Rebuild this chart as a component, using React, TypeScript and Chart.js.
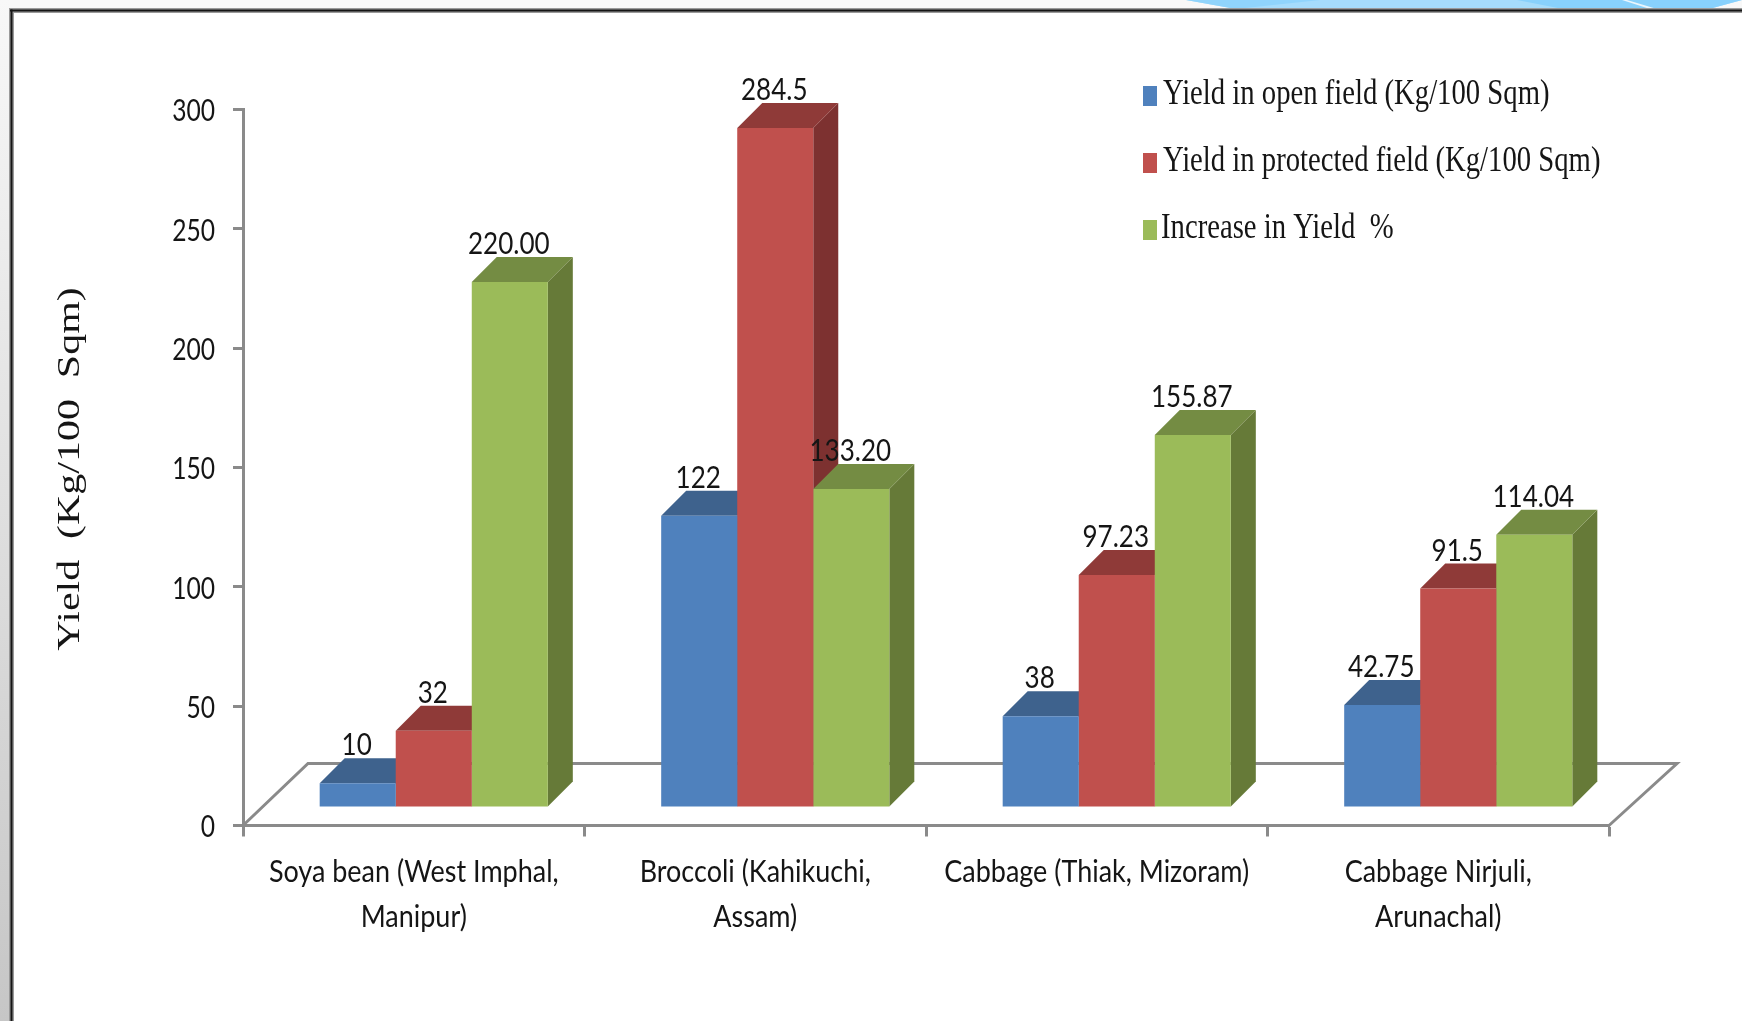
import React, { useEffect, useRef } from "react";
import { Chart, registerables } from "chart.js";

Chart.register(...registerables);

const categories = [
  ["Soya bean (West Imphal,", "Manipur)"],
  ["Broccoli (Kahikuchi,", "Assam)"],
  ["Cabbage (Thiak, Mizoram)"],
  ["Cabbage Nirjuli,", "Arunachal)"],
];
const openField = [10, 122, 38, 42.75];
const protectedField = [32, 284.5, 97.23, 91.5];
const increase = [220.0, 133.2, 155.87, 114.04];
const openLabels = ["10", "122", "38", "42.75"];
const protectedLabels = ["32", "284.5", "97.23", "91.5"];
const increaseLabels = ["220.00", "133.20", "155.87", "114.04"];
const valueLabels = [openLabels, protectedLabels, increaseLabels];
const seriesNames = [
  "Yield in open field (Kg/100 Sqm)",
  "Yield in protected field (Kg/100 Sqm)",
  "Increase in Yield  %",
];
const yTicks = [0, 50, 100, 150, 200, 250, 300];
const yTitle = "Yield  (Kg/100  Sqm)";

const frontColors = ["#4f81bd", "#c0504d", "#9bbb59"];
const topColors = ["#3e628d", "#8f3a38", "#748c43"];
const sideColors = ["#355478", "#7d3130", "#667a38"];

const SANS = "Lato";
const SERIF = '"Liberation Serif"';
const AXIS = "#8a8a8a";
const INK = "#151515";
const SHIFT_X = 20;
const SHIFT_Y = -18.5;
const DEPTH = 25;
const FLOOR = 65;

function squeezed(ctx: any, text: string, x: number, y: number, font: string, sx: number, align: string) {
  ctx.save();
  ctx.translate(x, y);
  ctx.scale(sx, 1);
  ctx.font = font;
  ctx.fillStyle = INK;
  ctx.textAlign = align;
  ctx.textBaseline = "middle";
  ctx.fillText(text, 0, 0);
  ctx.restore();
}

function poly(ctx: any, color: string, pts: number[][]) {
  ctx.fillStyle = color;
  ctx.beginPath();
  pts.forEach((p, i) => (i ? ctx.lineTo(p[0], p[1]) : ctx.moveTo(p[0], p[1])));
  ctx.closePath();
  ctx.fill();
}

const scene = {
  id: "scene",
  beforeDraw(chart: any) {
    const { ctx, width, height } = chart;
    ctx.save();
    ctx.fillStyle = "#f8f8f8";
    ctx.fillRect(0, 0, width, height);
    const g = ctx.createLinearGradient(0, 0, 0, height);
    g.addColorStop(0, "#f8f8f8");
    g.addColorStop(1, "#c6c6c6");
    ctx.fillStyle = g;
    ctx.fillRect(0, 0, 10, height);
    // blue header swoosh
    poly(ctx, "#a6dcfb", [[1186, 0], [1742, 0], [1709, 9], [1236, 9]]);
    poly(ctx, "#90d4fb", [[1186, 0], [1320, 0], [1236, 9]]);
    poly(ctx, "#88d1fc", [[1517, 0], [1742, 0], [1709, 9], [1563, 9]]);
    poly(ctx, "#eaf6fe", [[1622, 0], [1627, 0], [1657, 9], [1650, 9]]);
    ctx.fillStyle = "#ffffff";
    ctx.fillRect(11, 10, width - 11, height - 10);
    ctx.fillStyle = "#9a9a9a";
    ctx.fillRect(9, 8, width - 9, 5);
    ctx.fillRect(9, 8, 5, height - 8);
    ctx.fillStyle = "#151515";
    ctx.fillRect(10, 9.5, width - 10, 2);
    ctx.fillRect(10.5, 9.5, 2, height - 9);
    ctx.restore();
  },
  beforeDatasetsDraw(chart: any) {
    const { ctx, chartArea: a, scales } = chart;
    const y0 = scales.y.getPixelForValue(0);
    ctx.save();
    ctx.strokeStyle = AXIS;
    ctx.lineWidth = 3;
    ctx.beginPath();
    ctx.moveTo(a.left, y0);
    ctx.lineTo(a.left + FLOOR, y0 - 62);
    ctx.lineTo(a.right + FLOOR + 3, y0 - 62);
    ctx.lineTo(a.right, y0);
    ctx.stroke();
    // the tops and right faces go down first, series by series, so that
    // every front face, which the library draws afterwards, lies over them
    ctx.translate(SHIFT_X, SHIFT_Y);
    chart.data.datasets.forEach((_: any, i: number) => {
      for (const bar of chart.getDatasetMeta(i).data) {
        const p = bar.getProps(["x", "y", "base", "width"], true);
        const l = p.x - p.width / 2;
        const r = p.x + p.width / 2;
        poly(ctx, sideColors[i], [[r, p.y], [r + DEPTH, p.y - DEPTH], [r + DEPTH, p.base - DEPTH], [r, p.base]]);
        poly(ctx, topColors[i], [[l, p.y], [l + DEPTH, p.y - DEPTH], [r + DEPTH, p.y - DEPTH], [r, p.y]]);
      }
    });
    ctx.restore();
  },
  beforeDatasetDraw(chart: any) {
    chart.ctx.save();
    chart.ctx.translate(SHIFT_X, SHIFT_Y);
  },
  afterDatasetDraw(chart: any) {
    chart.ctx.restore();
  },
  afterDatasetsDraw(chart: any) {
    const { ctx } = chart;
    chart.data.datasets.forEach((_: any, i: number) => {
      chart.getDatasetMeta(i).data.forEach((bar: any, j: number) => {
        squeezed(ctx, valueLabels[i][j], bar.x + SHIFT_X - 1, bar.y + SHIFT_Y - 38, `31px ${SANS}`, 0.84, "center");
      });
    });
  },
  afterDraw(chart: any) {
    const { ctx, scales } = chart;
    // axis labels
    scales.y.ticks.forEach((t: any, i: number) => {
      squeezed(ctx, String(t.value), 215, scales.y.getPixelForTick(i) + 2, `30px ${SANS}`, 0.82, "right");
    });
    chart.data.labels.forEach((lines: string[], i: number) => {
      lines.forEach((line, k) => {
        squeezed(ctx, line, scales.x.getPixelForTick(i), 872 + k * 45, `31px ${SANS}`, 0.87, "center");
      });
    });
    // legend
    [95, 162, 229].forEach((cy, i) => {
      ctx.fillStyle = frontColors[i];
      ctx.fillRect(1143, cy - 9, 14, 20);
      ctx.save();
      ctx.translate(i === 2 ? 1161 : 1163, cy);
      ctx.scale(0.797, 1);
      ctx.fillStyle = INK;
      ctx.font = `36px ${SERIF}`;
      ctx.textBaseline = "middle";
      ctx.textAlign = "left";
      ctx.fillText(seriesNames[i], 0, 0);
      ctx.restore();
    });
    // rotated axis title
    ctx.save();
    ctx.translate(71, 469);
    ctx.rotate(-Math.PI / 2);
    ctx.scale(1.165, 0.86);
    ctx.fillStyle = INK;
    ctx.font = `36px ${SERIF}`;
    ctx.textAlign = "center";
    ctx.textBaseline = "middle";
    ctx.fillText(yTitle, 0, 0);
    ctx.restore();
  },
};

export default function App() {
  const ref = useRef<HTMLCanvasElement>(null);
  useEffect(() => {
    document.body.style.margin = "0";
    const chart = new Chart(ref.current as any, {
      type: "bar",
      data: {
        labels: categories as any,
        datasets: [
          { label: seriesNames[0], data: openField, backgroundColor: frontColors[0], clip: false as any },
          { label: seriesNames[1], data: protectedField, backgroundColor: frontColors[1], clip: false as any },
          { label: seriesNames[2], data: increase, backgroundColor: frontColors[2], clip: false as any },
        ],
      },
      options: {
        animation: false,
        responsive: false,
        categoryPercentage: 0.668,
        barPercentage: 1,
        layout: { padding: { left: 100, top: 109.5, right: 133, bottom: 60 } },
        plugins: { legend: { display: false }, tooltip: { enabled: false }, title: { display: false } },
        scales: {
          x: {
            type: "category",
            offset: true,
            afterFit: (s: any) => { s.height = 135.5; },
            border: { color: AXIS, width: 3 },
            grid: { offset: true, drawOnChartArea: false, drawTicks: true, tickLength: 11, tickColor: AXIS, tickWidth: 3 },
            ticks: { display: false, autoSkip: false },
          },
          y: {
            min: 0,
            max: 300,
            afterFit: (s: any) => { s.width = 143; },
            afterBuildTicks: (s: any) => { s.ticks = yTicks.map((value) => ({ value })); },
            border: { color: AXIS, width: 3 },
            grid: { drawOnChartArea: false, drawTicks: true, tickLength: 10, tickColor: AXIS, tickWidth: 3 },
            ticks: { display: false },
          },
        },
      } as any,
      plugins: [scene],
    });
    return () => chart.destroy();
  }, []);
  return <canvas ref={ref} width={1742} height={1021} style={{ display: "block" }} />;
}
